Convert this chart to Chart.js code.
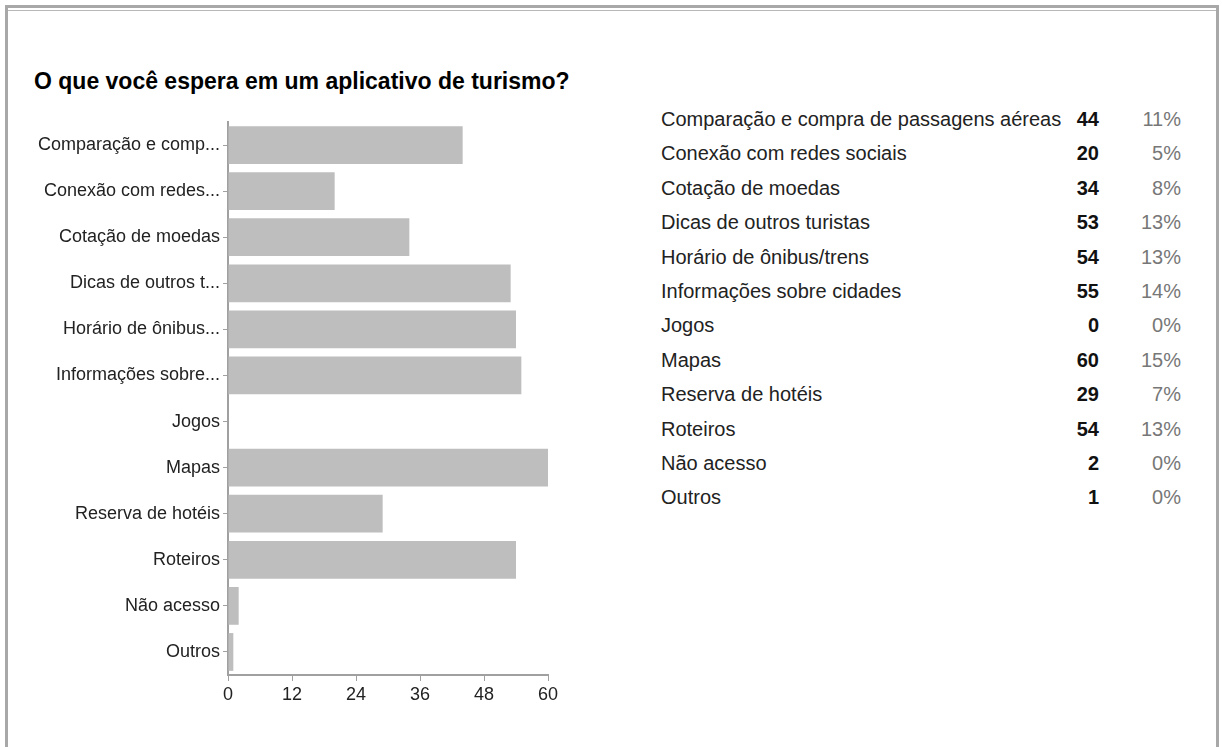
<!DOCTYPE html>
<html>
<head>
<meta charset="utf-8">
<script src="https://cdn.jsdelivr.net/npm/chart.js@4"></script>
<style>
  html, body { margin: 0; padding: 0; background: #fff; }
  body { width: 1222px; height: 747px; position: relative; overflow: hidden; font-family: "Liberation Sans", Arial, sans-serif; }
  .frame { position: absolute; left: 5px; top: 5px; width: 1208px; height: 800px; border: 3px solid #a8a8a8; border-bottom: none; }
  .frame:after { content: ''; position: absolute; left: 0; right: 0; top: 2px; border-top: 1px solid #b8b8b8; }
  .title { position: absolute; left: 34px; top: 68px; font-size: 23px; font-weight: bold; color: #000; white-space: nowrap; }
  #chartWrap { position: absolute; left: 0; top: 0; width: 600px; height: 747px; }
  .row { position: absolute; left: 661px; width: 520px; height: 34px; line-height: 34px; font-size: 20px; color: #222; white-space: nowrap; }
  .row .val { position: absolute; right: 82px; top: 0; font-weight: bold; color: #111; }
  .row .pct { position: absolute; right: 0; top: 0; color: #777; }
</style>
</head>
<body>
<div class="frame"></div>
<div class="title">O que você espera em um aplicativo de turismo?</div>
<div id="chartWrap"><canvas id="bars"></canvas></div>
<div id="table"></div>
<script>
const categories = ['Comparação e compra de passagens aéreas', 'Conexão com redes sociais', 'Cotação de moedas',
  'Dicas de outros turistas', 'Horário de ônibus/trens', 'Informações sobre cidades', 'Jogos', 'Mapas',
  'Reserva de hotéis', 'Roteiros', 'Não acesso', 'Outros'];
const axisLabels = ['Comparação e comp...', 'Conexão com redes...', 'Cotação de moedas', 'Dicas de outros t...',
  'Horário de ônibus...', 'Informações sobre...', 'Jogos', 'Mapas', 'Reserva de hotéis', 'Roteiros', 'Não acesso', 'Outros'];
const counts = [44, 20, 34, 53, 54, 55, 0, 60, 29, 54, 2, 1];
const percents = ['11%', '5%', '8%', '13%', '13%', '14%', '0%', '15%', '7%', '13%', '0%', '0%'];
const xTicks = [0, 12, 24, 36, 48, 60];

// summary table on the right
document.getElementById('table').innerHTML = categories.map((c, i) =>
  `<div class="row" style="top:${102 + i * 34.4}px">${c}<span class="val">${counts[i]}</span><span class="pct">${percents[i]}</span></div>`
).join('');

const axisColor = '#a0a0a0';
new Chart(document.getElementById('bars'), {
  type: 'bar',
  data: { labels: axisLabels, datasets: [{ data: counts, backgroundColor: '#bebebe', borderWidth: 0,
    barPercentage: 0.82, categoryPercentage: 1 }] },
  options: {
    responsive: true, maintainAspectRatio: false, animation: false, indexAxis: 'y',
    layout: { padding: { top: 122, bottom: 32, left: 0, right: 52 } },
    plugins: { legend: { display: false }, tooltip: { enabled: false } },
    scales: {
      x: {
        min: 0, max: 60,
        afterBuildTicks: s => { s.ticks = xTicks.map(v => ({ value: v })); },
        afterFit: s => { s.height = 40; },
        grid: { drawOnChartArea: false, drawTicks: true, tickLength: 6, color: axisColor },
        border: { color: axisColor, width: 2 },
        ticks: { color: '#222', padding: 3, font: { family: '"Liberation Sans", Arial', size: 18 } }
      },
      y: {
        afterFit: s => { s.width = 228; },
        grid: { offset: false, drawOnChartArea: false, drawTicks: true, tickLength: 5, color: axisColor },
        border: { color: axisColor, width: 2 },
        ticks: { color: '#222', padding: 3, autoSkip: false, font: { family: '"Liberation Sans", Arial', size: 18 } }
      }
    }
  }
});
</script>
</body>
</html>
